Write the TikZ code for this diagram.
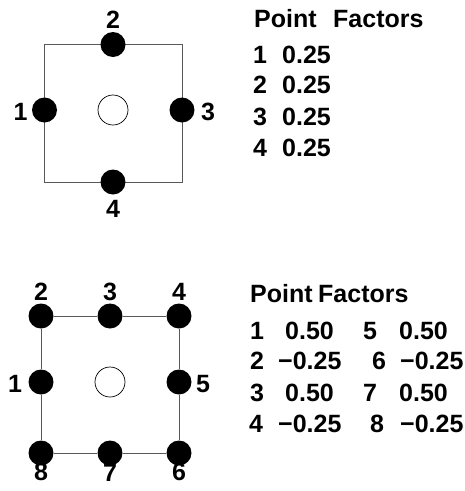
\documentclass[tikz,border=0pt]{standalone}
\usepackage{fontspec}
\setmainfont{Liberation Sans}
\begin{document}
\begin{tikzpicture}[x=1pt,y=-1pt,
  txt/.style={font=\fontsize{25}{29}\selectfont\bfseries, inner sep=0pt},
  lbl/.style={txt, anchor=base},
  cell/.style={txt, anchor=base west},
  pt/.style={circle, fill=black, draw=none, minimum size=25pt, inner sep=0pt},
  gauss/.style={circle, fill=white, draw=black, line width=0.7pt, minimum size=30pt, inner sep=0pt},
  edge/.style={draw=black!65, line width=1pt}]
\useasboundingbox (0,0) rectangle (465,491);

% ---- four-point element: corners, side mid-points, centre ----
\coordinate (a1) at (44.5,44.5);
\coordinate (a2) at (182,44.5);
\coordinate (a3) at (182,182);
\coordinate (a4) at (44.5,182);
\draw[edge] (a1) -- (a2) -- (a3) -- (a4) -- cycle;
\node[gauss] (ac) at (113,110) {};
\node[pt] (p1) at (44.5,110) {};
\node[pt] (p2) at (113,44.5) {};
\node[pt] (p3) at (182,110) {};
\node[pt] (p4) at (113,182) {};
\node[lbl] (l1) at (20.5,120) {1};
\node[lbl] (l2) at (113,28.5) {2};
\node[lbl] (l3) at (208,120) {3};
\node[lbl] (l4) at (113,217) {4};

\node[cell] (t0a) at (254,27.5) {Point};
\node[cell] (t0b) at (333,27.5) {Factors};
\node[cell] (t1a) at (253,63.5) {1};
\node[cell] (t1b) at (282,63.5) {0.25};
\node[cell] (t2a) at (253,93.5) {2};
\node[cell] (t2b) at (282,93.5) {0.25};
\node[cell] (t3a) at (253,125) {3};
\node[cell] (t3b) at (282,125) {0.25};
\node[cell] (t4a) at (253,156.5) {4};
\node[cell] (t4b) at (282,156.5) {0.25};

% ---- eight-point element ----
\node[gauss] (bc) at (110,382) {};
\node[pt] (q1) at (41,382) {};
\node[pt] (q2) at (41,316) {};
\node[pt] (q3) at (110,316) {};
\node[pt] (q4) at (179,316) {};
\node[pt] (q5) at (179,382) {};
\node[pt] (q6) at (179,453) {};
\node[pt] (q7) at (110,453) {};
\node[pt] (q8) at (41,453) {};
\draw[edge] (q1) -- (q2);
\draw[edge] (q2) -- (q3);
\draw[edge] (q3) -- (q4);
\draw[edge] (q4) -- (q5);
\draw[edge] (q5) -- (q6);
\draw[edge] (q6) -- (q7);
\draw[edge] (q7) -- (q8);
\draw[edge] (q8) -- (q1);

\node[lbl] (m1) at (15,392) {1};
\node[lbl] (m2) at (41,300) {2};
\node[lbl] (m3) at (110,300) {3};
\node[lbl] (m4) at (179,300) {4};
\node[lbl] (m5) at (203,392) {5};
\node[lbl] (m6) at (179,480) {6};
\node[lbl] (m7) at (110,481) {7};
\node[lbl] (m8) at (41,480) {8};

\node[cell] (u0a) at (250,302) {Point};
\node[cell] (u0b) at (318,302) {Factors};
\node[cell] (u1a) at (250,339) {1};
\node[cell] (u1b) at (285,339) {0.50};
\node[cell] (u1c) at (363,339) {5};
\node[cell] (u1d) at (399,339) {0.50};
\node[cell] (u2a) at (250,369) {2};
\node[cell] (u2b) at (278,369) {−0.25};
\node[cell] (u2c) at (372,369) {6};
\node[cell] (u2d) at (400,369) {−0.25};
\node[cell] (u3a) at (250,401) {3};
\node[cell] (u3b) at (285,401) {0.50};
\node[cell] (u3c) at (363,401) {7};
\node[cell] (u3d) at (399,401) {0.50};
\node[cell] (u4a) at (249,432) {4};
\node[cell] (u4b) at (278,432) {−0.25};
\node[cell] (u4c) at (370,432) {8};
\node[cell] (u4d) at (400,432) {−0.25};
\end{tikzpicture}
\end{document}
